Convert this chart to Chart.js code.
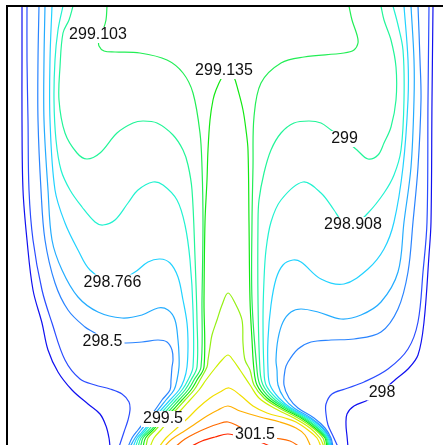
<!DOCTYPE html>
<html>
<head>
<meta charset="utf-8">
<script src="https://cdn.jsdelivr.net/npm/chart.js@4.4.1/dist/chart.umd.min.js"></script>
<style>
  html, body { margin: 0; padding: 0; background: #fff; overflow: hidden; }
  #wrap { width: 452px; height: 450px; }
</style>
</head>
<body>
<div id="wrap"><canvas id="myChart" width="452" height="450"></canvas></div>
<script>
// contour lines of the temperature field, [x, y] in mm (domain 220 x 220)
const lv298L = [[7,220],[7,193],[7,163],[7.5,128],[9.5,103],[12.5,78],[17,61.5],[20,48],[25,37],[32,28],[40,21],[46,16],[49,10],[50.5,4],[51,-0.5]];
const lv298R = [[212.5,220],[212,173],[211.5,112],[210.5,95.5],[208,62],[205,45.5],[200,38.5],[194,33.5],[187,27.5],[180,23],[173,20],[169.5,16],[169,10.5],[169.5,5],[170,-0.5]];
const lv29825L = [[9.5,220],[9.5,193],[10,163],[10.5,128],[12.5,103],[17,78],[22,61.5],[28.5,43],[36,33.5],[43.5,30.5],[51,28.5],[57,26],[60.5,22],[61,18],[60,13],[58,7],[55.5,-0.5]];
const lv29825R = [[210.5,220],[210,173],[209.5,112],[207.5,87],[205,62],[200,48.5],[190,38.5],[178,32],[168.5,28.5],[162,26],[159,21],[159,16],[160,10.5],[162.5,5],[165,-0.5]];
const lv2985L = [[15.5,220],[15,193],[15,163],[16.5,128],[18.5,103],[23.5,81.5],[30,68],[38.5,59.5],[43.5,56.5],[48.5,52.5],[58.5,51.5],[67,52],[75,53],[79.5,52],[82,48],[82.5,43],[82,39.5],[81.5,33],[81,28],[77,23],[73.5,18],[69,13],[65,8],[62,4],[60,-0.5]];
const lv2985R = [[205,220],[206,193],[206.5,173],[205,139.5],[202.5,112],[200,87],[195,68.5],[186.5,57],[173,53.5],[161.5,53],[151.5,52],[145,48.5],[140,42],[138.5,38],[138,30.5],[140.5,24],[145,19],[153,14],[158.5,9],[161.5,4],[162.5,-0.5]];
const lv29865L = [[18.5,220],[18,193],[18,163],[20,128],[22,103],[27,88],[35,74.5],[45,67],[57,64],[67,65.5],[75,69],[80,68],[83.5,63],[85,53],[85.5,45.5],[85.5,39.5],[84.5,33],[83,28],[79,23],[75,18],[70.5,13],[66.5,8],[63.5,4],[61,-0.5]];
const lv29865R = [[201.5,220],[203,193],[203,173],[201.5,139.5],[198,112],[195,87],[186.5,72],[176.5,65.5],[166.5,63.5],[155,67],[146.5,68.5],[141.5,67],[137.5,62],[135,53.5],[134,43],[134.5,38],[135,30.5],[138,24],[143,19],[151.5,14],[157.5,9],[161,4],[162,-0.5]];
const lv298766L = [[22,220],[21,193],[21,163],[23.5,128],[28.5,111.5],[35,98],[41,88],[52.5,81.5],[63.5,87],[70,92],[76,93.5],[81,91.5],[85,84.5],[87.5,73],[89.5,61.5],[90,50.5],[89.5,39.5],[88,33],[85.5,28],[81,23],[76.5,18],[72,13],[68,8],[64.5,4],[62.5,-0.5]];
const lv298766R = [[198,220],[200,193],[200,173],[197.5,139.5],[193,112],[188,98.5],[180,88.5],[168,81],[156.5,83.5],[146.5,92],[142.5,93],[137.5,90.5],[134,83.5],[131.5,70.5],[130,53.5],[130,38],[131,30.5],[135.5,24],[141.5,19],[150.5,14],[157,9],[160.5,4],[161.5,-0.5]];
const lv298908L = [[27.5,220],[25,208],[23.5,193],[23,173],[24,153],[26.5,138],[31,128],[37,119.5],[43.5,112],[47.5,110.5],[53.5,113],[60,121.5],[65,128],[72.5,132],[77.5,130.5],[84.5,123],[88.5,110.5],[91,93],[92.5,68],[92.5,39.5],[90,33],[87,28],[82.5,23],[78,18],[73.25,13],[69,8],[65.5,4],[63.75,-0.5]];
const lv298908R = [[192.5,220],[195,210.5],[197.5,198],[198,173],[196.5,148],[193,135.5],[188,126.5],[180,116.5],[172,110],[166.5,113],[163,118],[156.5,126.5],[147.5,132],[136.5,123],[131.5,112],[129,98],[128,83],[127.5,63],[128,38],[129,30.5],[134,24],[140.5,19],[149.5,14],[156,9],[160,4],[161,-0.5]];
const lv299L = [[32.5,220],[30.5,213],[27.5,206.5],[26,189.5],[25.5,173],[28.5,156.5],[34.5,146.5],[39.5,143.5],[46,146.5],[54.5,156.5],[62.5,161.5],[67.5,162.5],[74.5,161.5],[82.5,155.5],[87.5,148],[90,140.5],[92,128],[93.5,94.5],[94.5,63],[94.5,39.5],[91.5,33],[88.5,28],[84,23],[79.5,18],[74.5,13],[70.25,8],[66.5,4],[65,-0.5]];
const lv299R = [[186.5,220],[188,213],[191.5,203],[194,189.5],[194,173],[191.5,159.5],[188,151.5],[185,145.5],[180,143.5],[174.5,148],[168,153.5],[161.5,158],[156.5,161.5],[150.5,162.5],[143,161.5],[136.5,156.5],[131.5,148],[128,136.5],[125.5,123],[125,112],[125,73],[126,38],[127.5,30.5],[132.5,24],[139.5,19],[148.5,14],[155,9],[159.5,4],[160.5,-0.5]];
const lv299103L = [[49.5,220],[49,213],[47.5,208],[45.5,203],[45.5,200],[48,197.5],[53.5,197],[66,196.5],[79.5,193],[87.5,186.5],[92.5,176.5],[96,156.5],[97,139.5],[97.5,112],[97,73],[96.5,39.5],[93,33],[90,28],[85.5,23],[81,18],[75.75,13],[71.5,8],[67.5,4],[66.25,-0.5]];
const lv299103R = [[170.5,220],[172,213],[174.5,205.5],[175,201.5],[173,198],[168,196.5],[148,194.5],[136.5,191.5],[126.5,181.5],[123,164.5],[122.5,139.5],[122,112],[122,73],[124.5,38],[126,30.5],[131,24],[138.5,19],[147.5,14],[154.5,9],[159,4],[160,-0.5]];
const lv299135 = [[67.5,-0.5],[68.75,4],[72.5,8],[77,13],[82.5,18],[87,23],[91.5,28],[94.5,33],[98,39.5],[98,73],[98.5,112],[99.5,133],[100,148],[101,163],[102.5,173],[104,178],[107,184.5],[110,189],[113,184.5],[115,178],[117.5,168],[119,158],[120,148],[120.5,112],[121,73],[122,53],[123,38],[124.5,30.5],[129.5,24],[137,19],[146.5,14],[153.5,9],[158.5,4],[159.5,-0.5]];
const lv2995 = [[69,-0.5],[70,4],[73.75,8],[78.25,13],[84,18],[88.5,23],[93,28],[96,33],[99.5,39.5],[100,43],[101,49.5],[102,55.5],[104.5,63],[107,70.5],[110,76.5],[113.5,71.5],[117,63],[117.5,51.5],[118.5,43],[121,38],[123,30.5],[128,24],[135.5,19],[145,14],[152.5,9],[157.5,4],[158.75,-0.5]];
const lv300 = [[71,-0.5],[73,4],[76.5,8],[81,13],[86.5,18],[91,23],[95.5,28],[99,33],[104,39.5],[107,43],[110,45.5],[112.5,43],[116,38],[121,30.5],[125.5,24],[133,19],[143,14],[151,9],[156,4],[158,-0.5]];
const lv3005 = [[75.5,-0.5],[79,4],[84.5,9],[90,14],[95,19],[101,24],[106,27],[110.5,29],[116,25.5],[122.5,20],[129.5,16.5],[138.5,14],[144,12],[150,8],[154.5,4],[156.5,-0.5]];
const lv301 = [[78,-0.5],[82,3.5],[87.5,7],[93.5,11],[99.5,15],[105,18],[110,20],[116,17.5],[126,14.5],[136,12],[144,9],[148.5,5.5],[151.5,-0.5]];
const lv3015 = [[83.5,-0.5],[88.5,3.5],[94,6.5],[99.5,9],[105,11],[110,12],[116,9.5],[124,6],[133.5,4],[141,2.5],[146,-0.5]];
const lv302 = [[91,-0.5],[97,2.5],[103.5,4.5],[110,6],[118.5,4],[126,2],[132,-0.5]];

const contourLevels = [298, 298.25, 298.5, 298.65, 298.766, 298.908, 299, 299.103, 299.135, 299.5, 300, 300.5, 301, 301.5, 302];
const contourBranches = [
    [lv298L, lv298R], [lv29825L, lv29825R], [lv2985L, lv2985R], [lv29865L, lv29865R],
    [lv298766L, lv298766R], [lv298908L, lv298908R], [lv299L, lv299R], [lv299103L, lv299103R],
    [lv299135], [lv2995], [lv300], [lv3005], [lv301], [lv3015], [lv302]
];

// inline contour labels
const labelLevels = [299.103, 299.135, 299, 298.908, 298.766, 298.5, 298, 299.5, 301.5];
const labelX = [45, 108, 168.25, 172.5, 52.25, 47.25, 187, 77.5, 123.5];
const labelY = [205.5, 187.5, 153.5, 110.5, 81.75, 52.25, 26.75, 13.5, 5.5];

const levelColors = ['#1010f0', '#2a4cff', '#2a84ff', '#24acff', '#22d2ff', '#22f2d0', '#22f598', '#22ee55',
    '#12e812', '#94f014', '#ccf000', '#f2de00', '#ffae00', '#ff6a00', '#ff2a00'];

const datasets = [];
contourLevels.forEach((lvl, i) => {
    contourBranches[i].forEach(branch => {
        datasets.push({
            label: String(lvl),
            data: branch.map(([x, y]) => ({ x, y })),
            showLine: true,
            borderColor: levelColors[i],
            borderWidth: 1.2,
            pointRadius: 0,
            tension: 0.35,
            fill: false
        });
    });
});

// labels with a white box behind, then the frame
const contourLabels = {
    id: 'contourLabels',
    afterDatasetsDraw(chart) {
        const { ctx, chartArea, scales } = chart;
        ctx.save();
        ctx.font = '16px "Liberation Sans", Arial, sans-serif';
        ctx.textAlign = 'center';
        ctx.textBaseline = 'middle';
        labelLevels.forEach((lvl, i) => {
            const text = String(lvl);
            const px = scales.x.getPixelForValue(labelX[i]);
            const py = scales.y.getPixelForValue(labelY[i]);
            const w = ctx.measureText(text).width;
            ctx.fillStyle = '#fff';
            ctx.fillRect(px - w / 2 - 2, py - 8, w + 4, 16);
            ctx.fillStyle = '#111';
            ctx.fillText(text, px, py);
        });
        ctx.strokeStyle = '#000';
        ctx.lineWidth = 2;
        ctx.strokeRect(chartArea.left, chartArea.top, chartArea.right - chartArea.left, chartArea.bottom - chartArea.top);
        ctx.restore();
    }
};

document.addEventListener('DOMContentLoaded', () => {
    const ctx = document.getElementById('myChart').getContext('2d');
    new Chart(ctx, {
        type: 'scatter',
        data: { datasets },
        options: {
            responsive: false,
            devicePixelRatio: 1,
            animation: false,
            layout: { padding: { left: 7, top: 6, right: 4, bottom: 4 } },
            plugins: { legend: { display: false }, tooltip: { enabled: false } },
            scales: {
                x: { type: 'linear', min: -0.5, max: 220, display: false },
                y: { type: 'linear', min: 0, max: 220, display: false }
            }
        },
        plugins: [contourLabels]
    });
});
</script>
</body>
</html>
